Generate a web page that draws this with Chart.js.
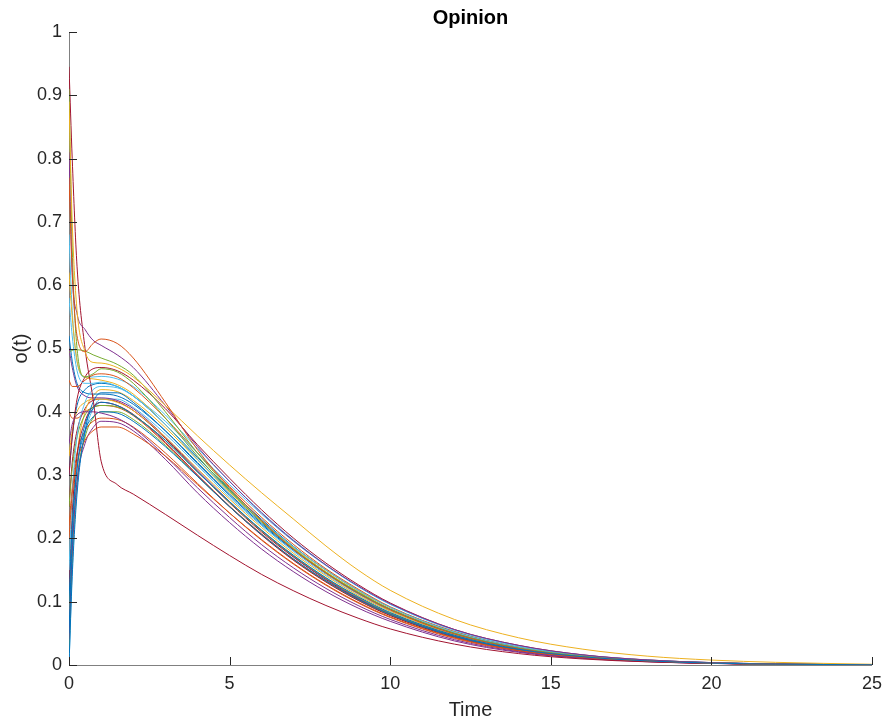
<!DOCTYPE html>
<html>
<head>
<meta charset="utf-8">
<script src="https://cdn.jsdelivr.net/npm/chart.js@4/dist/chart.umd.min.js"></script>
<style>
  body { margin: 0; background: #fff; }
  canvas { display: block; }
</style>
</head>
<body>
<canvas id="opinion-chart" width="890" height="726"></canvas>
<script>
// Sample times (x) shared by every trajectory
const times = [0, 0.1, 0.25, 0.5, 0.75, 1, 1.5, 2, 3, 4, 5, 6, 7, 8, 9, 10, 12, 14, 16, 18, 20, 22, 25];

// Opinion trajectories o(t)
const o01 = [0.05, 0.2, 0.31, 0.38, 0.405, 0.415, 0.41, 0.395, 0.355, 0.305, 0.258, 0.213, 0.173, 0.138, 0.108, 0.083, 0.047, 0.025, 0.013, 0.0065, 0.003, 0.0014, 0.0003];
const o02 = [0.77, 0.62, 0.52, 0.495, 0.508, 0.515, 0.508, 0.485, 0.415, 0.34, 0.28, 0.228, 0.182, 0.145, 0.113, 0.087, 0.049, 0.026, 0.013, 0.0065, 0.003, 0.0014, 0.0003];
const o03 = [0.89, 0.7, 0.56, 0.495, 0.478, 0.477, 0.47, 0.455, 0.41, 0.362, 0.316, 0.272, 0.23, 0.188, 0.15, 0.118, 0.072, 0.043, 0.025, 0.014, 0.0078, 0.0042, 0.0012];
const o04 = [0.81, 0.62, 0.555, 0.53, 0.513, 0.505, 0.49, 0.47, 0.41, 0.345, 0.29, 0.24, 0.196, 0.158, 0.125, 0.097, 0.056, 0.031, 0.016, 0.008, 0.0038, 0.0017, 0.0004];
const o05 = [0.91, 0.66, 0.5, 0.455, 0.46, 0.468, 0.463, 0.445, 0.39, 0.33, 0.275, 0.226, 0.183, 0.146, 0.115, 0.088, 0.05, 0.027, 0.014, 0.007, 0.0033, 0.0015, 0.0003];
const o06 = [0.58, 0.52, 0.465, 0.445, 0.445, 0.447, 0.44, 0.425, 0.38, 0.325, 0.275, 0.228, 0.186, 0.15, 0.118, 0.091, 0.052, 0.028, 0.0145, 0.0072, 0.0034, 0.0015, 0.0003];
const o07 = [0.945, 0.8, 0.63, 0.5, 0.42, 0.322, 0.285, 0.27, 0.238, 0.205, 0.173, 0.143, 0.117, 0.094, 0.074, 0.057, 0.033, 0.018, 0.0095, 0.005, 0.0025, 0.0012, 0.0003];
const o08 = [0.0, 0.14, 0.27, 0.37, 0.415, 0.43, 0.43, 0.415, 0.37, 0.318, 0.268, 0.222, 0.181, 0.145, 0.114, 0.088, 0.05, 0.027, 0.014, 0.007, 0.0033, 0.0015, 0.0003];
const o09 = [0.2, 0.27, 0.32, 0.355, 0.37, 0.376, 0.376, 0.365, 0.33, 0.285, 0.24, 0.198, 0.16, 0.127, 0.099, 0.076, 0.043, 0.023, 0.012, 0.006, 0.0028, 0.0013, 0.0003];
const o10 = [0.62, 0.55, 0.48, 0.455, 0.452, 0.45, 0.443, 0.428, 0.38, 0.325, 0.273, 0.226, 0.184, 0.147, 0.116, 0.089, 0.051, 0.027, 0.014, 0.007, 0.0033, 0.0015, 0.0003];
const o11 = [0.35, 0.38, 0.395, 0.4, 0.4, 0.398, 0.39, 0.375, 0.33, 0.28, 0.233, 0.19, 0.153, 0.121, 0.094, 0.072, 0.04, 0.021, 0.011, 0.0055, 0.0026, 0.0012, 0.0003];
const o12 = [0.494, 0.497, 0.498, 0.496, 0.49, 0.485, 0.475, 0.458, 0.4, 0.335, 0.278, 0.228, 0.184, 0.147, 0.115, 0.088, 0.05, 0.027, 0.014, 0.007, 0.0033, 0.0015, 0.0003];
const o13 = [0.15, 0.27, 0.36, 0.415, 0.435, 0.44, 0.438, 0.425, 0.385, 0.335, 0.285, 0.238, 0.195, 0.157, 0.124, 0.096, 0.055, 0.03, 0.0155, 0.0078, 0.0037, 0.0017, 0.0004];
const o14 = [0.3, 0.36, 0.42, 0.455, 0.468, 0.47, 0.465, 0.45, 0.405, 0.348, 0.295, 0.245, 0.2, 0.161, 0.127, 0.098, 0.056, 0.031, 0.016, 0.008, 0.0038, 0.0017, 0.0004];
const o15 = [0.1, 0.22, 0.31, 0.37, 0.392, 0.4, 0.398, 0.385, 0.345, 0.298, 0.25, 0.206, 0.167, 0.133, 0.104, 0.08, 0.045, 0.024, 0.0125, 0.0062, 0.0029, 0.0013, 0.0003];
const o16 = [0.45, 0.44, 0.44, 0.45, 0.458, 0.46, 0.455, 0.438, 0.39, 0.335, 0.282, 0.233, 0.19, 0.152, 0.12, 0.092, 0.053, 0.028, 0.0145, 0.0072, 0.0034, 0.0015, 0.0003];
const o17 = [0.33, 0.37, 0.4, 0.415, 0.42, 0.42, 0.415, 0.402, 0.36, 0.31, 0.262, 0.217, 0.176, 0.141, 0.11, 0.085, 0.048, 0.026, 0.0135, 0.0068, 0.0032, 0.0014, 0.0003];
const o18 = [0.04, 0.18, 0.29, 0.35, 0.375, 0.385, 0.383, 0.37, 0.325, 0.272, 0.225, 0.183, 0.147, 0.116, 0.09, 0.069, 0.038, 0.02, 0.0105, 0.0052, 0.0025, 0.0011, 0.0002];
const o19 = [0.25, 0.31, 0.36, 0.395, 0.407, 0.41, 0.408, 0.395, 0.355, 0.305, 0.257, 0.212, 0.172, 0.137, 0.107, 0.082, 0.047, 0.025, 0.013, 0.0065, 0.003, 0.0014, 0.0003];
const o20 = [0.68, 0.56, 0.48, 0.455, 0.455, 0.456, 0.452, 0.44, 0.395, 0.342, 0.29, 0.241, 0.197, 0.158, 0.124, 0.096, 0.055, 0.03, 0.0155, 0.0078, 0.0037, 0.0017, 0.0004];
const o21 = [0.12, 0.24, 0.33, 0.385, 0.408, 0.415, 0.41, 0.396, 0.352, 0.3, 0.25, 0.205, 0.165, 0.131, 0.102, 0.078, 0.044, 0.023, 0.012, 0.006, 0.0028, 0.0013, 0.0003];
const o22 = [0.52, 0.48, 0.445, 0.43, 0.428, 0.428, 0.425, 0.412, 0.37, 0.32, 0.27, 0.224, 0.182, 0.146, 0.115, 0.088, 0.05, 0.027, 0.014, 0.007, 0.0033, 0.0015, 0.0003];
const o23 = [0.22, 0.28, 0.335, 0.37, 0.385, 0.39, 0.388, 0.376, 0.335, 0.287, 0.24, 0.197, 0.159, 0.126, 0.098, 0.075, 0.042, 0.022, 0.0115, 0.0057, 0.0027, 0.0012, 0.0003];
const o24 = [0.08, 0.22, 0.33, 0.4, 0.425, 0.435, 0.432, 0.418, 0.375, 0.324, 0.274, 0.228, 0.186, 0.15, 0.118, 0.091, 0.052, 0.028, 0.0145, 0.0072, 0.0034, 0.0015, 0.0003];
const o25 = [0.5, 0.47, 0.44, 0.425, 0.422, 0.422, 0.418, 0.405, 0.36, 0.308, 0.258, 0.212, 0.171, 0.136, 0.106, 0.081, 0.046, 0.024, 0.0125, 0.0062, 0.0029, 0.0013, 0.0003];
const o26 = [0.02, 0.17, 0.29, 0.36, 0.39, 0.4, 0.4, 0.388, 0.347, 0.298, 0.25, 0.206, 0.166, 0.132, 0.103, 0.079, 0.044, 0.023, 0.012, 0.006, 0.0028, 0.0013, 0.0003];
const o27 = [0.0, 0.15, 0.28, 0.365, 0.405, 0.42, 0.42, 0.407, 0.365, 0.315, 0.265, 0.22, 0.179, 0.143, 0.112, 0.086, 0.049, 0.026, 0.0135, 0.0068, 0.0032, 0.0014, 0.0003];
const o28 = [0.25, 0.32, 0.37, 0.405, 0.418, 0.42, 0.416, 0.402, 0.358, 0.306, 0.256, 0.21, 0.17, 0.135, 0.105, 0.081, 0.046, 0.024, 0.0125, 0.0062, 0.0029, 0.0013, 0.0003];
const o29 = [0.3, 0.36, 0.41, 0.435, 0.443, 0.445, 0.44, 0.425, 0.38, 0.328, 0.277, 0.23, 0.187, 0.15, 0.118, 0.091, 0.052, 0.028, 0.0145, 0.0072, 0.0034, 0.0015, 0.0003];
const o30 = [0.4, 0.39, 0.39, 0.4, 0.407, 0.41, 0.407, 0.394, 0.35, 0.3, 0.251, 0.207, 0.167, 0.133, 0.104, 0.079, 0.045, 0.024, 0.0125, 0.0062, 0.0029, 0.0013, 0.0003];

const trajectories = [o01, o02, o03, o04, o05, o06, o07, o08, o09, o10,
  o11, o12, o13, o14, o15, o16, o17, o18, o19, o20,
  o21, o22, o23, o24, o25, o26, o27, o28, o29, o30];

// MATLAB default line colour order
const lineColors = ["#0072BD", "#D95319", "#EDB120", "#7E2F8E", "#77AC30", "#4DBEEE", "#A2142F"];
const axisColor = "#262626";
const fontFamily = "'Liberation Sans', Arial, Helvetica, sans-serif";

// Inward tick marks, MATLAB style
const inwardTicks = {
	id: "inwardTicks",
	afterDatasetsDraw(chart) {
		const { ctx, chartArea, scales: { x, y } } = chart;
		ctx.save();
		ctx.strokeStyle = axisColor;
		ctx.lineWidth = 1;
		ctx.beginPath();
		x.ticks.forEach(t => {
			const px = Math.round(x.getPixelForValue(t.value)) + 0.5;
			ctx.moveTo(px, chartArea.bottom);
			ctx.lineTo(px, chartArea.bottom - 8);
		});
		y.ticks.forEach(t => {
			const py = Math.round(y.getPixelForValue(t.value)) + 0.5;
			ctx.moveTo(chartArea.left, py);
			ctx.lineTo(chartArea.left + 8, py);
		});
		ctx.stroke();
		ctx.restore();
	}
};

const datasets = trajectories.map((vals, i) => ({
	data: vals.map((v, k) => ({ x: times[k], y: v })),
	borderColor: lineColors[i % lineColors.length],
	borderWidth: 1,
	pointRadius: 0,
	fill: false,
	cubicInterpolationMode: "monotone"
}));

const plainNumber = v => String(Number(v.toFixed(2)));

new Chart(document.getElementById("opinion-chart"), {
	type: "line",
	data: { datasets: datasets },
	plugins: [inwardTicks],
	options: {
		responsive: false,
		animation: false,
		devicePixelRatio: 1,
		layout: { padding: { left: 0, right: 18, top: 0, bottom: 0 } },
		plugins: {
			legend: { display: false },
			tooltip: { enabled: false },
			title: {
				display: true,
				fullSize: false,
				text: "Opinion",
				color: "#000",
				font: { family: fontFamily, size: 20, weight: "bold" },
				padding: { top: 6, bottom: 2 }
			}
		},
		scales: {
			x: {
				type: "linear",
				min: 0,
				max: 25,
				grid: { display: false, drawTicks: false },
				border: { display: true, color: "#808080", width: 1 },
				ticks: { stepSize: 5, padding: 8, color: axisColor, font: { family: fontFamily, size: 18 }, maxRotation: 0, callback: plainNumber },
				title: { display: true, text: "Time", color: axisColor, font: { family: fontFamily, size: 20 }, padding: { top: 0, bottom: 4 } },
				afterFit: s => { s.height = 61; }
			},
			y: {
				type: "linear",
				min: 0,
				max: 1,
				grid: { display: false, drawTicks: false },
				border: { display: true, color: "#808080", width: 1 },
				ticks: { stepSize: 0.1, padding: 7, color: axisColor, font: { family: fontFamily, size: 18 }, callback: plainNumber },
				title: { display: true, text: "o(t)", color: axisColor, font: { family: fontFamily, size: 20 }, padding: { top: 9, bottom: 0 } },
				afterFit: s => { s.width = 69; }
			}
		}
	}
});
</script>
</body>
</html>
